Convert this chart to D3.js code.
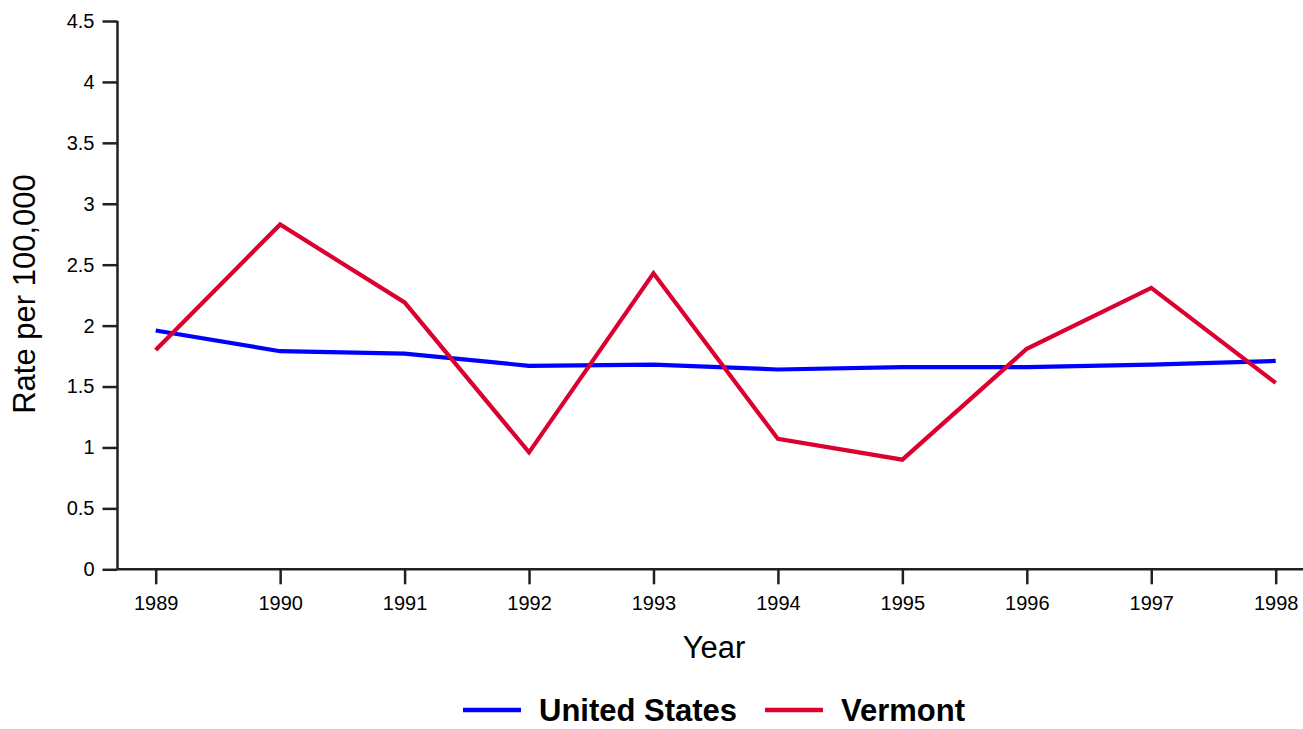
<!DOCTYPE html>
<html><head><meta charset="utf-8">
<script src="https://cdn.jsdelivr.net/npm/d3@7"></script>
<style>body{margin:0;background:#fff;} svg{display:block;font-family:Arial,"Liberation Sans",sans-serif;}</style>
</head><body>
<svg id="c" width="1303" height="729"></svg>
<script>
const years = [1989,1990,1991,1992,1993,1994,1995,1996,1997,1998];
const usValues = [1.96,1.79,1.77,1.67,1.68,1.64,1.66,1.66,1.68,1.71];
const vtValues = [1.80,2.83,2.19,0.96,2.43,1.07,0.90,1.81,2.31,1.53];
const yTicks = [0,0.5,1,1.5,2,2.5,3,3.5,4,4.5];
const seriesNames = ["United States","Vermont"];
const seriesColors = ["#0000ff","#dc0030"];

const svg = d3.select("#c");
const axisColor = "#231f20";
const x = d3.scaleLinear().domain([1989,1998]).range([155.7,1275.7]);
const y = d3.scaleLinear().domain([0,4.5]).range([569.3,21]);

// y axis
const ya = svg.append("g").attr("transform","translate(117.5,0)")
  .call(d3.axisLeft(y).tickValues(yTicks).tickFormat(d=>String(d)).tickSize(15).tickPadding(8));
ya.select(".domain").attr("d", `M0,${y(4.5)}V${y(0)}`);
// x axis
const xa = svg.append("g").attr("transform",`translate(0,${y(0)})`)
  .call(d3.axisBottom(x).tickValues(years).tickFormat(d3.format("d")).tickSize(15).tickPadding(12));
xa.select(".domain").attr("d", `M117.5,0H1303`);
svg.selectAll(".domain").attr("stroke",axisColor).attr("stroke-width",2.5);
svg.selectAll(".tick line").attr("stroke",axisColor).attr("stroke-width",2.5);
svg.selectAll(".tick text").attr("fill","#000").style("font-size","20px").style("font-family","Arial, 'Liberation Sans', sans-serif");

// titles
svg.append("text").attr("x",714).attr("y",658).attr("text-anchor","middle")
  .style("font-size","31px").text("Year");
svg.append("text").attr("transform","translate(35,294) rotate(-90)").attr("text-anchor","middle")
  .style("font-size","31px").text("Rate per 100,000");

// lines
const line = d3.line().x((d,i)=>x(years[i])).y(d=>y(d));
[usValues, vtValues].forEach((vals,k)=>{
  svg.append("path").datum(vals).attr("d",line).attr("fill","none")
    .attr("stroke",seriesColors[k]).attr("stroke-width",4.2).attr("stroke-linejoin","miter");
});

// legend
const legX = [463, 765];
seriesNames.forEach((n,k)=>{
  svg.append("line").attr("x1",legX[k]).attr("x2",legX[k]+58).attr("y1",710).attr("y2",710)
    .attr("stroke",seriesColors[k]).attr("stroke-width",4.5);
  svg.append("text").attr("x",legX[k]+76).attr("y",721).style("font-size","31px")
    .style("font-weight","bold").text(n);
});
</script>
</body></html>
